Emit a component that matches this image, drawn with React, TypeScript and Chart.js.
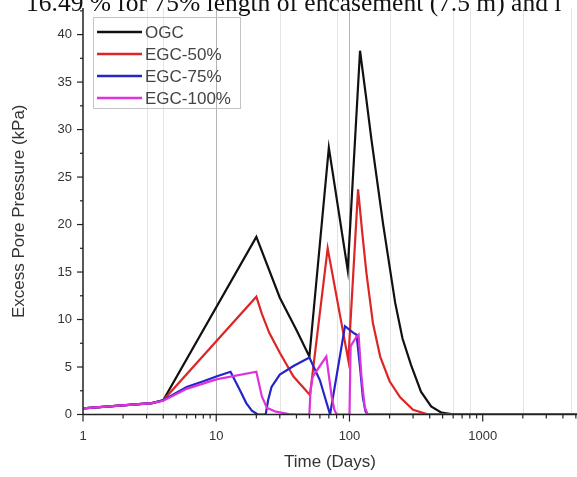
import React, { useEffect, useRef } from 'react';
import { Chart, registerables } from 'chart.js';

Chart.register(...registerables);

// ---- data ----
const seriesLabels = ['OGC', 'EGC-50%', 'EGC-75%', 'EGC-100%'];
const seriesColors = ['#111111', '#dc2626', '#2424c8', '#dd33dd'];

const ogcDays = [1, 3.3, 4, 20, 30, 40, 50, 70, 97, 120, 133, 146, 179, 220, 250, 290, 344, 410, 490, 600, 700, 5100];
const ogcKPa = [0.65, 1.2, 1.5, 18.7, 12.3, 8.9, 6.1, 28.1, 15.2, 38.3, 33.5, 29.0, 20.0, 11.8, 8.0, 5.2, 2.4, 0.85, 0.2, 0.03, 0, 0];

const egc50Days = [1, 3.3, 4, 20, 22, 25, 30, 38, 50.5, 68.6, 98, 116, 125, 134, 150, 170, 200, 240, 300, 380, 430, 5100];
const egc50KPa = [0.65, 1.2, 1.5, 12.4, 10.6, 8.6, 6.5, 4.0, 2.05, 17.5, 5.7, 23.7, 19.0, 14.9, 9.6, 6.1, 3.5, 1.8, 0.5, 0.05, 0, 0];

const egc75Days = [1, 3.3, 4, 6, 8, 10, 12.8, 15, 16.8, 18.5, 20.5, 23.5, 24.5, 26, 30, 38, 50, 60, 71.5, 92.5, 107, 113, 120, 126, 132, 137, 5100];
const egc75KPa = [0.65, 1.2, 1.5, 2.9, 3.5, 4.0, 4.5, 2.6, 1.2, 0.4, 0, 0, 1.5, 2.9, 4.2, 5.1, 6.0, 3.6, 0, 9.3, 8.6, 8.4, 5.0, 1.8, 0.3, 0, 0];

const egc100Days = [1, 3.3, 4, 6, 10, 20, 22, 24, 28, 35, 40, 50, 51, 53, 67, 73.5, 77, 80, 100, 102, 113, 117, 123, 130, 137, 5100];
const egc100KPa = [0.65, 1.2, 1.45, 2.7, 3.7, 4.5, 1.9, 0.7, 0.3, 0.05, 0, 0, 2.5, 4.0, 6.1, 1.9, 0.5, 0, 0, 7.2, 8.2, 8.4, 4.0, 0.8, 0, 0];

const xTickValues = [1, 10, 100, 1000];
const yTickValues = [0, 5, 10, 15, 20, 25, 30, 35, 40];
const xGridMajor = [10, 100];
const xGridMinor = [3, 4, 30, 80, 200, 600, 800, 2000, 4600];

const headerText = '16.49 % for 75% length of encasement (7.5 m) and i';
const xTitle = 'Time (Days)';
const yTitle = 'Excess Pore Pressure (kPa)';

const X_MIN = 1;
const X_MAX = 5100;
const Y_MIN = 0;
const Y_MAX = 42.8;

const allDays = [ogcDays, egc50Days, egc75Days, egc100Days];
const allKPa = [ogcKPa, egc50KPa, egc75KPa, egc100KPa];

const decorPlugin = {
  id: 'decor',
  beforeDatasetsDraw(chart: any) {
    const { ctx, chartArea } = chart;
    const xs = chart.scales.x;
    ctx.save();
    ctx.lineWidth = 1;
    ctx.strokeStyle = '#e4e4e4';
    xGridMinor.forEach((v) => {
      const px = Math.round(xs.getPixelForValue(v)) + 0.5;
      ctx.beginPath();
      ctx.moveTo(px, chartArea.top);
      ctx.lineTo(px, chartArea.bottom);
      ctx.stroke();
    });
    ctx.strokeStyle = '#b4b4b4';
    xGridMajor.forEach((v) => {
      const px = Math.round(xs.getPixelForValue(v)) + 0.5;
      ctx.beginPath();
      ctx.moveTo(px, chartArea.top);
      ctx.lineTo(px, chartArea.bottom);
      ctx.stroke();
    });
    ctx.restore();
  },
  afterDatasetsDraw(chart: any) {
    const { ctx, chartArea } = chart;
    const xs = chart.scales.x;
    const ys = chart.scales.y;
    ctx.save();
    // axes
    ctx.strokeStyle = '#222';
    ctx.lineWidth = 1.5;
    ctx.beginPath();
    ctx.moveTo(chartArea.left, chartArea.top);
    ctx.lineTo(chartArea.left, chartArea.bottom);
    ctx.moveTo(chartArea.left, chartArea.bottom);
    ctx.lineTo(chartArea.right, chartArea.bottom);
    ctx.stroke();
    // y ticks
    ctx.lineWidth = 1.2;
    yTickValues.forEach((v) => {
      const py = ys.getPixelForValue(v);
      ctx.beginPath();
      ctx.moveTo(chartArea.left, py);
      ctx.lineTo(chartArea.left - 6, py);
      ctx.stroke();
      const pm = ys.getPixelForValue(v + 2.5);
      if (v + 2.5 < Y_MAX) {
        ctx.beginPath();
        ctx.moveTo(chartArea.left, pm);
        ctx.lineTo(chartArea.left - 3, pm);
        ctx.stroke();
      }
    });
    // x ticks
    for (let d = 1; d <= 1000; d *= 10) {
      for (let m = 1; m <= 9; m++) {
        const v = d * m;
        if (v > X_MAX) continue;
        const px = xs.getPixelForValue(v);
        ctx.beginPath();
        ctx.moveTo(px, chartArea.bottom);
        ctx.lineTo(px, chartArea.bottom + (m === 1 ? 7 : 4));
        ctx.stroke();
      }
    }
    // legend
    const lx = 93, ly = 17, lw = 147, lh = 91;
    ctx.strokeStyle = '#c4c4c4';
    ctx.lineWidth = 1;
    ctx.strokeRect(lx + 0.5, ly + 0.5, lw, lh);
    ctx.font = '17px "Liberation Sans", Arial, sans-serif';
    ctx.textBaseline = 'middle';
    ctx.textAlign = 'left';
    seriesLabels.forEach((label, i) => {
      const y = 32 + i * 22;
      ctx.strokeStyle = seriesColors[i];
      ctx.lineWidth = 2.5;
      ctx.beginPath();
      ctx.moveTo(97, y);
      ctx.lineTo(142, y);
      ctx.stroke();
      ctx.fillStyle = '#444';
      ctx.fillText(label, 145, y + 1);
    });
    // header fragment
    ctx.fillStyle = '#111';
    ctx.font = '25.5px "Liberation Serif", "Times New Roman", serif';
    ctx.textBaseline = 'alphabetic';
    ctx.fillText(headerText, 26, 10.5);
    ctx.restore();
  },
};

export default function App() {
  const canvasRef = useRef<HTMLCanvasElement | null>(null);

  useEffect(() => {
    if (!canvasRef.current) return;
    const datasets = seriesLabels.map((label, i) => ({
      label,
      data: allDays[i].map((d, j) => ({ x: d, y: allKPa[i][j] })),
      borderColor: seriesColors[i],
      backgroundColor: seriesColors[i],
      borderWidth: 2.2,
      pointRadius: 0,
      tension: 0,
      fill: false,
      order: 3 - i,
    }));

    const chart = new Chart(canvasRef.current, {
      type: 'line',
      data: { datasets },
      options: {
        animation: false,
        responsive: false,
        devicePixelRatio: 1,
        layout: { padding: { top: 8, right: 0, left: 0, bottom: 0 } },
        plugins: {
          legend: { display: false },
          tooltip: { enabled: false },
        },
        scales: {
          x: {
            type: 'logarithmic',
            min: X_MIN,
            max: X_MAX,
            grid: { display: false, drawTicks: false },
            border: { display: false },
            ticks: {
              color: '#333',
              font: { size: 13, family: '"Liberation Sans", Arial, sans-serif' },
              padding: 14.5,
              autoSkip: false,
              maxRotation: 0,
              callback: (v: any) => String(v),
            },
            afterBuildTicks: (scale: any) => {
              scale.ticks = xTickValues.map((v) => ({ value: v }));
            },
            afterFit: (scale: any) => {
              scale.height = 62.5;
              scale.paddingLeft = 0;
              scale.paddingRight = 0;
            },
            title: {
              display: true,
              text: xTitle,
              color: '#333',
              font: { size: 17, family: '"Liberation Sans", Arial, sans-serif' },
              padding: { top: 0, bottom: 4 },
            },
          },
          y: {
            type: 'linear',
            min: Y_MIN,
            max: Y_MAX,
            grid: { display: false, drawTicks: false },
            border: { display: false },
            ticks: {
              color: '#333',
              font: { size: 13, family: '"Liberation Sans", Arial, sans-serif' },
              padding: 11,
              callback: (v: any) => String(v),
            },
            afterBuildTicks: (scale: any) => {
              scale.ticks = yTickValues.map((v) => ({ value: v }));
            },
            afterFit: (scale: any) => {
              scale.width = 83;
              scale.paddingTop = 0;
              scale.paddingBottom = 0;
            },
            title: {
              display: true,
              text: yTitle,
              color: '#333',
              font: { size: 17, family: '"Liberation Sans", Arial, sans-serif' },
              padding: { top: 9, bottom: 0 },
            },
          },
        },
      },
      plugins: [decorPlugin],
    } as any);
    return () => chart.destroy();
  }, []);

  return (
    <div style={{ position: 'fixed', left: 0, top: 0, width: 577, height: 477, background: '#fff', overflow: 'hidden' }}>
      <canvas ref={canvasRef} width={577} height={477} style={{ width: 577, height: 477, display: 'block' }} />
    </div>
  );
}
